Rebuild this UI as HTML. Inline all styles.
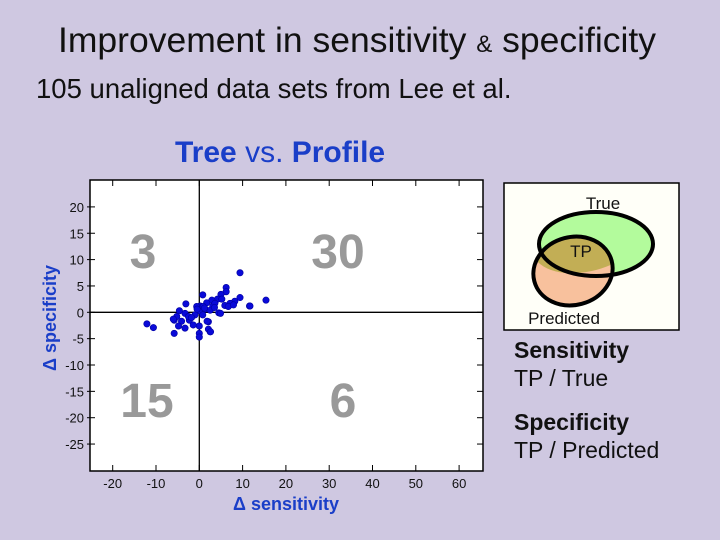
<!DOCTYPE html>
<html><head><meta charset="utf-8"><style>
body{margin:0;width:720px;height:540px;background:#cfc8e1;overflow:hidden;font-family:"Liberation Sans",sans-serif;position:relative}
.t{position:absolute;white-space:nowrap}
</style></head><body>
<div class="t" style="left:58px;top:20px;font-size:35.5px;color:#111">Improvement in sensitivity <span style="font-size:24px">&amp;</span> specificity</div>
<div class="t" style="left:36px;top:73px;font-size:27.5px;color:#111">105 unaligned data sets from Lee et al.</div>
<div class="t" style="left:175px;top:136px;font-size:30px;color:#1a3ec8;font-weight:bold">Tree <span style="font-weight:normal;color:#1a3ec8">vs.</span> Profile</div>
<div class="t" style="left:514px;top:336px;font-size:23px;color:#111;line-height:28px"><b>Sensitivity</b><br>TP / True</div>
<div class="t" style="left:514px;top:408px;font-size:23px;color:#111;line-height:28px"><b>Specificity</b><br>TP / Predicted</div>
<svg width="720" height="540" style="position:absolute;left:0;top:0" id="svg" font-family="Liberation Sans, sans-serif">
 <rect x="90" y="180" width="393" height="291" fill="#fff" stroke="#000" stroke-width="1.5"/>
 <g id="ticks"></g>
 <text x="143" y="268" font-size="48" font-weight="bold" fill="#999" text-anchor="middle">3</text>
 <text x="338" y="268" font-size="48" font-weight="bold" fill="#999" text-anchor="middle">30</text>
 <text x="147" y="417" font-size="48" font-weight="bold" fill="#999" text-anchor="middle">15</text>
 <text x="343" y="417" font-size="48" font-weight="bold" fill="#999" text-anchor="middle">6</text>
 <g id="lines"></g>
 <g id="pts"></g>
 <text x="286" y="510" font-size="18" font-weight="bold" fill="#1a3ec8" text-anchor="middle">Δ sensitivity</text>
 <text transform="translate(56,318) rotate(-90)" font-size="18" font-weight="bold" fill="#1a3ec8" text-anchor="middle">Δ specificity</text>
 <g>
  <rect x="504" y="183" width="175" height="147" fill="#fffff8" stroke="#000" stroke-width="1.5"/>
  <defs><clipPath id="cp"><ellipse cx="596" cy="244" rx="57" ry="32"/></clipPath></defs>
  <ellipse cx="596" cy="244" rx="57" ry="32" fill="#b3fb9c"/>
  <ellipse cx="573" cy="271" rx="40" ry="34" transform="rotate(-15 573 271)" fill="#f8c19d"/>
  <ellipse cx="573" cy="271" rx="40" ry="34" transform="rotate(-15 573 271)" fill="#c2ae55" clip-path="url(#cp)"/>
  <ellipse cx="596" cy="244" rx="57" ry="32" fill="none" stroke="#000" stroke-width="4"/>
  <ellipse cx="573" cy="271" rx="40" ry="34" transform="rotate(-15 573 271)" fill="none" stroke="#000" stroke-width="4"/>
  <text x="603" y="209" font-size="17" fill="#111" text-anchor="middle">True</text>
  <text x="581" y="257" font-size="17" fill="#111" text-anchor="middle">TP</text>
  <text x="564" y="324" font-size="17" fill="#111" text-anchor="middle">Predicted</text>
 </g>
</svg>
<script>
const xTicks=[-20,-10,0,10,20,30,40,50,60];
const yTicks=[20,15,10,5,0,-5,-10,-15,-20,-25];
const xs=[9.4,15.4,11.6,6.2,6.2,5,0.8,-3.1,9.4,8.2,7.1,5.9,4.2,2.9,1.7,3.1,4.5,0.2,0,1.3,-1,-4.6,-3.3,-12.1,-10.6,-5.8,-4.1,-2.3,-1.4,-4.8,-5.8,-3.3,0,0,0,2.1,2.5,2.1,-5.2,-2.5,3.6,5.2,0.9,-0.6,2.5,0.8,-6,1.8,2.6,4.9,6.7,7.9,11.7,-1.8,1.2,3.5,-0.5];
const ys=[7.5,2.3,1.2,4.7,3.9,3.4,3.3,1.6,2.8,2.1,1.7,1.3,2.5,2.3,1.8,1.2,-0.1,1.2,0.3,0.6,-0.5,0.3,-0.2,-2.2,-2.9,-1.5,-1.7,-1.5,-2.4,-2.6,-4,-3,-2.6,-4,-4.7,-1.8,-3.7,-3.2,-0.8,-0.8,1.7,2.5,1.1,1.1,0.4,-0.5,-1.3,-1.7,-3.7,-0.2,1.1,1.4,1.2,-1.0,0.8,0.9,0.6];
const X=v=>199.3+(v)*4.33, Y=v=>312.3-v*5.27;
const NS="http://www.w3.org/2000/svg";
const tk=document.getElementById('ticks'),ln=document.getElementById('lines'),pg=document.getElementById('pts');
function mk(tag,at,par){const e=document.createElementNS(NS,tag);for(const k in at)e.setAttribute(k,at[k]);par.appendChild(e);return e;}
xTicks.forEach(v=>{
 mk('line',{x1:X(v),x2:X(v),y1:471,y2:465,stroke:'#000'},tk);
 mk('line',{x1:X(v),x2:X(v),y1:180,y2:186,stroke:'#000'},tk);
 const t=mk('text',{x:X(v),y:488,'font-size':13,fill:'#111','text-anchor':'middle'},tk);t.textContent=v;
 
 
});
yTicks.forEach(v=>{
 mk('line',{x1:87,x2:95,y1:Y(v),y2:Y(v),stroke:'#000'},tk);
 mk('line',{x1:477,x2:483,y1:Y(v),y2:Y(v),stroke:'#000'},tk);
 const t=mk('text',{x:84,y:Y(v)+5,'font-size':13,fill:'#111','text-anchor':'end'},tk);t.textContent=v;
 
 
});
const zx=mk('line',{x1:X(0),x2:X(0),y1:180,y2:471,stroke:'#000','stroke-width':1.3},ln);


const zy=mk('line',{x1:90,x2:483,y1:Y(0),y2:Y(0),stroke:'#000','stroke-width':1.3},ln);


xs.forEach((v,i)=>{
 const c=mk('circle',{cx:X(v),cy:Y(ys[i]),r:3.2,fill:'#0a0ad8',stroke:'#0000a0','stroke-width':0.6},pg);
 
 
});
</script>
</body></html>
